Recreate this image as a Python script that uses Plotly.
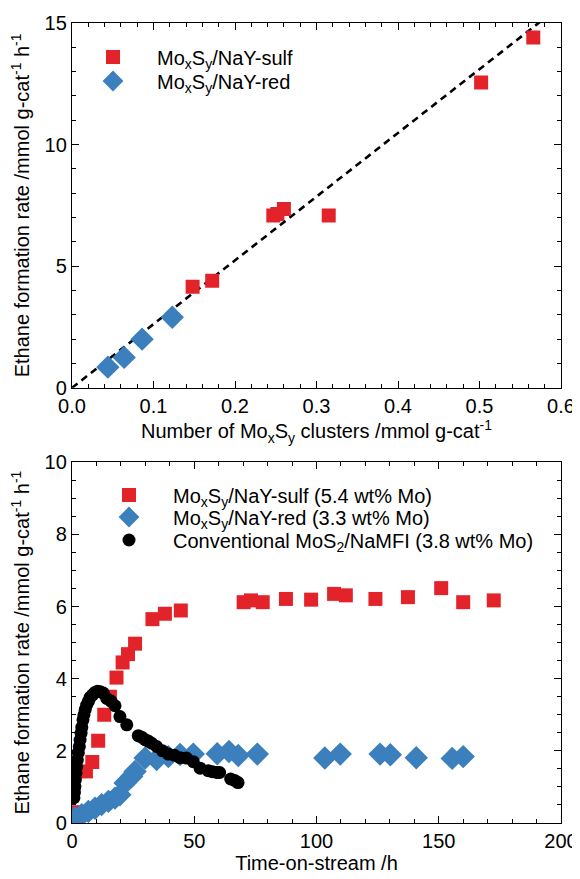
import plotly.graph_objects as go

# ---------------- Top panel data ----------------
top_sulf_x = [0.148, 0.172, 0.247, 0.252, 0.260, 0.315, 0.502, 0.566]
top_sulf_y = [4.15, 4.40, 7.08, 7.15, 7.35, 7.08, 12.55, 14.40]
top_red_x = [0.044, 0.064, 0.086, 0.123]
top_red_y = [0.85, 1.25, 2.00, 2.90]
fit_slope = 26.2
fit_x = [0.0, 0.6]

# ---------------- Bottom panel data ----------------
sulf_t = [2.0, 5.7, 8.3, 10.7, 13.2, 15.5, 18.2, 20.7, 22.9, 25.8, 32.9, 38.0, 44.5,
          70.2, 73.2, 78.0, 87.5, 97.8, 107.2, 112.0, 124.1, 137.4, 151.0, 160.0, 172.5]
sulf_r = [0.30, 1.43, 1.69, 2.28, 3.00, 3.50, 4.03, 4.45, 4.68, 4.97, 5.65, 5.80, 5.89,
          6.12, 6.17, 6.12, 6.21, 6.19, 6.35, 6.31, 6.21, 6.26, 6.51, 6.12, 6.17]

red_t = [1.2, 4.0, 6.7, 9.4, 12.1, 14.9, 17.6, 19.6, 21.7, 24.4, 25.8, 29.9, 34.6, 39.4,
         44.2, 49.6, 59.4, 64.2, 68.0, 75.8, 103.4, 109.7, 126.0, 130.2, 140.8, 155.5, 160.0]
red_r = [0.14, 0.23, 0.32, 0.41, 0.51, 0.60, 0.69, 0.78, 1.11, 1.29, 1.43, 1.80, 1.76, 1.84,
         1.90, 1.91, 1.92, 1.98, 1.87, 1.91, 1.80, 1.91, 1.91, 1.89, 1.81, 1.79, 1.84]

mfi_t = [0.8, 1.0, 1.2, 1.4, 1.6, 1.9, 2.2, 2.6, 3.0, 3.3, 3.7, 4.0, 4.5, 4.9, 5.4, 6.0,
         6.7, 7.4, 8.4, 9.4, 10.4, 11.5, 12.8, 14.2, 15.9, 17.6, 19.6, 22.4, 27.1, 28.5,
         29.9, 31.2, 32.6, 34.6, 37.0, 39.4, 41.8, 44.2, 46.8, 49.6, 52.4, 55.7, 57.4,
         59.2, 60.4, 64.9, 66.5, 67.9]
mfi_r = [0.70, 0.85, 1.01, 1.20, 1.38, 1.55, 1.75, 1.95, 2.12, 2.30, 2.49, 2.65, 2.86,
         3.00, 3.14, 3.27, 3.37, 3.48, 3.55, 3.62, 3.65, 3.64, 3.60, 3.45, 3.38, 3.25,
         2.95, 2.72, 2.42, 2.38, 2.31, 2.27, 2.21, 2.12, 2.00, 1.91, 1.88, 1.81, 1.80,
         1.70, 1.52, 1.45, 1.42, 1.40, 1.40, 1.22, 1.18, 1.12]

RED = "#e3232a"
BLUE = "#3b7fbd"
FONT = "Liberation Sans, Arial, sans-serif"

fig = go.Figure()

fig.add_trace(go.Scatter(
    x=fit_x, y=[fit_slope * v for v in fit_x], mode="lines",
    line=dict(color="black", width=2.6, dash="7px,5px"),
    showlegend=False, xaxis="x", yaxis="y", hoverinfo="skip"))
fig.add_trace(go.Scatter(
    x=top_sulf_x, y=top_sulf_y, mode="markers", name="Mo<sub>x</sub>S<sub>y</sub>/NaY-sulf",
    marker=dict(symbol="square", size=14, color=RED), xaxis="x", yaxis="y", legend="legend"))
fig.add_trace(go.Scatter(
    x=top_red_x, y=top_red_y, mode="markers", name="Mo<sub>x</sub>S<sub>y</sub>/NaY-red",
    marker=dict(symbol="diamond", size=18, color=BLUE), xaxis="x", yaxis="y", legend="legend2"))

fig.add_trace(go.Scatter(
    x=sulf_t, y=sulf_r, mode="markers", name="Mo<sub>x</sub>S<sub>y</sub>/NaY-sulf (5.4 wt% Mo)",
    marker=dict(symbol="square", size=14, color=RED), xaxis="x2", yaxis="y2", legend="legend3"))
fig.add_trace(go.Scatter(
    x=red_t, y=red_r, mode="markers", name="Mo<sub>x</sub>S<sub>y</sub>/NaY-red (3.3 wt% Mo)",
    marker=dict(symbol="diamond", size=18, color=BLUE), xaxis="x2", yaxis="y2", legend="legend4"))
fig.add_trace(go.Scatter(
    x=mfi_t, y=mfi_r, mode="markers", name="Conventional MoS<sub>2</sub>/NaMFI (3.8 wt% Mo)",
    marker=dict(symbol="circle", size=13, color="black"), xaxis="x2", yaxis="y2", legend="legend5"))

axis_common = dict(
    showline=True, linecolor="black", linewidth=1.3, mirror="ticks",
    ticks="inside", ticklen=7, tickwidth=1.2, tickcolor="black", automargin=False,
    showgrid=False, zeroline=False, tickfont=dict(size=20, color="black", family=FONT),
)

ytitle = "Ethane formation rate /mmol g-cat<sup>-1</sup> h<sup>-1</sup>"

# The page body adds an 8 px offset; figure is sized so the page matches the reference.
OFF = 8
W, H = 580 - OFF, 879 - OFF


def leg(x, y):
    return dict(x=x, y=y, xanchor="left", yanchor="middle", bgcolor="rgba(0,0,0,0)",
                font=dict(size=20, family=FONT), itemwidth=78, tracegroupgap=0,
                borderwidth=0)


# paper coords: plot area spans page y 23..823 (800 px), page x 72..561 (489 px)
def px(xpix):
    return (xpix - 72) / 489.0


def py(ypix):
    return (823 - ypix) / 800.0


fig.update_layout(
    width=W, height=H,
    margin=dict(l=72 - OFF, r=19, t=23 - OFF, b=56),
    paper_bgcolor="white", plot_bgcolor="white",
    font=dict(family=FONT, color="black", size=20),
    xaxis=dict(**axis_common, domain=[0, 1], anchor="y", range=[0, 0.6], dtick=0.1,
               tickformat=".1f",
               minor=dict(dtick=0.02, ticks="inside", ticklen=4, tickcolor="black"),
               title=dict(text="Number of Mo<sub>x</sub>S<sub>y</sub> clusters /mmol g-cat<sup>-1</sup>",
                          font=dict(size=20), standoff=4)),
    yaxis=dict(**axis_common, domain=[0.544, 1], anchor="x", range=[0, 15], dtick=5,
               minor=dict(dtick=1, ticks="inside", ticklen=4, tickcolor="black"),
               title=dict(text=ytitle, font=dict(size=20), standoff=10)),
    xaxis2=dict(**axis_common, domain=[0, 1], anchor="y2", range=[0, 200], dtick=50,
                minor=dict(dtick=10, ticks="inside", ticklen=4, tickcolor="black"),
                title=dict(text="Time-on-stream /h", font=dict(size=20), standoff=4)),
    yaxis2=dict(**axis_common, domain=[0, 0.451], anchor="x2", range=[0, 10], dtick=2,
                minor=dict(dtick=0.5, ticks="inside", ticklen=4, tickcolor="black"),
                title=dict(text=ytitle, font=dict(size=20), standoff=10)),
    legend=leg(px(69), py(57)),
    legend2=leg(px(69), py(81)),
    legend3=leg(px(85), py(495)),
    legend4=leg(px(85), py(517)),
    legend5=leg(px(85), py(540)),
)

fig.write_html("out.html")
